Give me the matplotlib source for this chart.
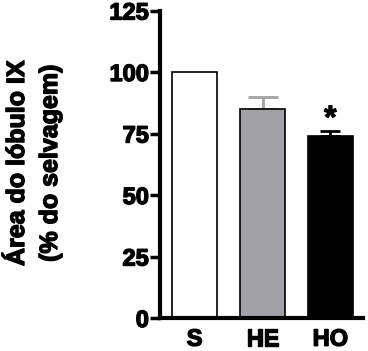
import matplotlib
matplotlib.use("Agg")
import matplotlib.pyplot as plt
import matplotlib.patheffects as pe

categories = ["S", "HE", "HO"]
values = [100, 85, 74]
errors = [0, 5, 2]
colors = ["white", "#a2a2a6", "black"]
err_colors = ["black", "#a2a2a6", "black"]
yticks = [0, 25, 50, 75, 100, 125]

plt.rcParams['font.family'] = ['Liberation Sans', 'DejaVu Sans']
plt.rcParams['font.weight'] = 'bold'

heavy = [pe.withStroke(linewidth=1.0, foreground="black")]

fig = plt.figure(figsize=(3.68, 3.51), dpi=100)
ax = fig.add_axes([160/368, 1-318/351, (363-160)/368, (318-10.5)/351])

x = [0, 1, 2]
ax.bar(x, values, width=0.67, color=colors, edgecolor="black", linewidth=1.2, zorder=2)
for xi, v, e, c, cap in zip(x, values, errors, err_colors, [0, 11, 7]):
    if e > 0:
        ax.errorbar(xi, v, yerr=[[0], [e]], color=c, capsize=cap, capthick=2, elinewidth=2, zorder=1)
ax.text(2, values[2] + errors[2] - 1.5, "*", ha="center", va="bottom", fontsize=23,
        fontweight="bold", path_effects=[pe.withStroke(linewidth=0.8, foreground="black")])

ax.set_xlim(-0.51, 2.48)
ax.set_ylim(0, 125)
ax.set_yticks(yticks)
ax.set_yticklabels([str(t) for t in yticks], fontsize=17, fontweight="bold")
ax.set_xticks(x)
ax.set_xticklabels(categories, fontsize=17, fontweight="bold")
for lbl in ax.get_yticklabels() + ax.get_xticklabels():
    lbl.set_path_effects(heavy)
ax.tick_params(axis="y", length=7, width=2.5, pad=1)
ax.tick_params(axis="x", length=0, pad=7)
for s in ["top", "right"]:
    ax.spines[s].set_visible(False)
for s in ["left", "bottom"]:
    ax.spines[s].set_linewidth(3)

fig.text(17/368, 1-163/351, "Área do lóbulo IX", rotation=90, ha="center", va="center",
         fontsize=18, fontweight="bold", path_effects=heavy)
fig.text(50/368, 1-163/351, "(% do selvagem)", rotation=90, ha="center", va="center",
         fontsize=18, fontweight="bold", path_effects=heavy)

fig.savefig("out.png", dpi=100)
